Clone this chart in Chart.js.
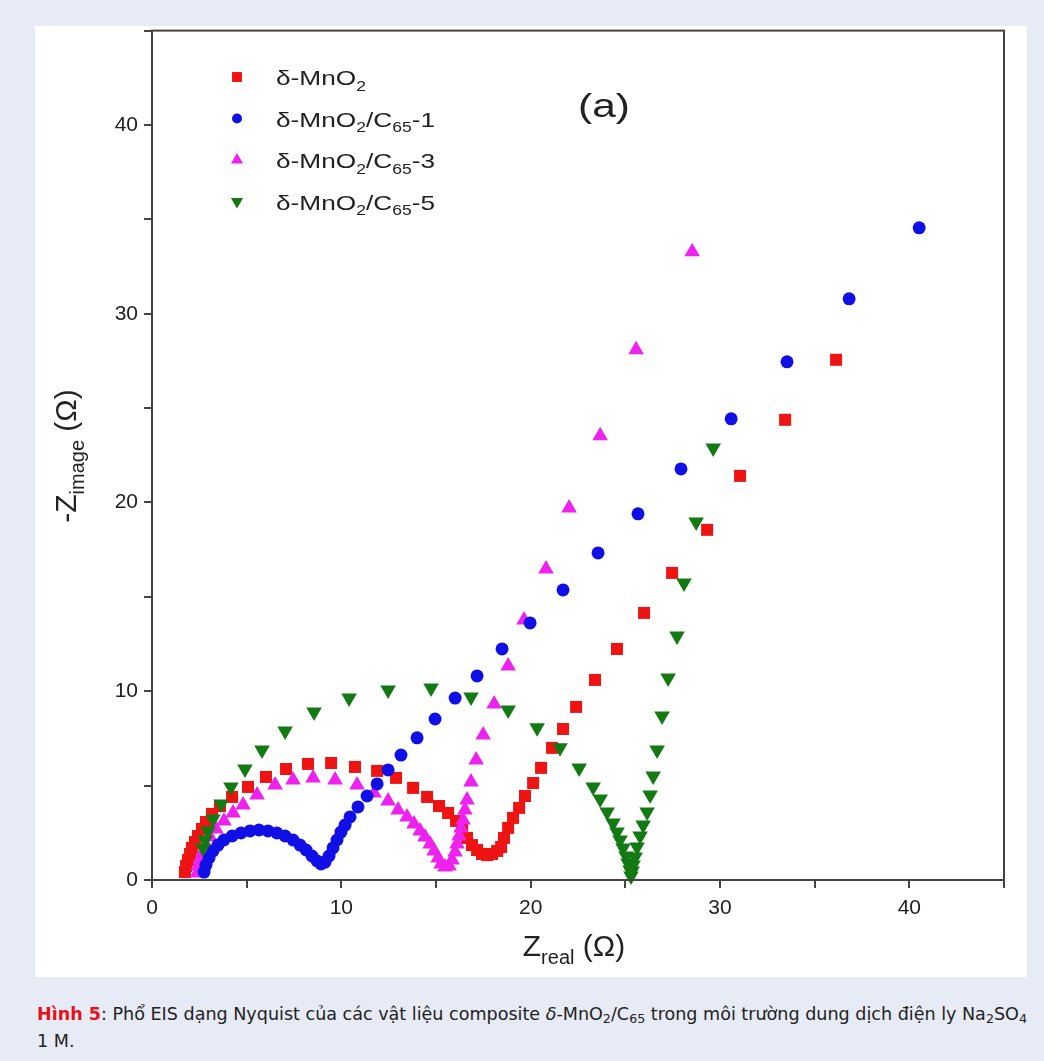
<!DOCTYPE html>
<html>
<head>
<meta charset="utf-8">
<script src="https://cdn.jsdelivr.net/npm/chart.js@4.4.1/dist/chart.umd.min.js"></script>
<style>
  body { margin: 0; background: #e7ebf6; width: 1044px; height: 1061px; position: relative; overflow: hidden; }
  #card { position: absolute; left: 35px; top: 26px; width: 992px; height: 951px; background: #fff; overflow: hidden; }
  #eis-chart { position: absolute; left: 0; top: -14px; }
  #caption { position: absolute; left: 37px; top: 1000px; font-family: "Liberation Sans Narrow", "DejaVu Sans Condensed", "Liberation Sans", sans-serif; font-size: 18px; line-height: 27px; color: #222; white-space: nowrap; transform-origin: 0 0; }
  #caption b { color: #e8101a; }
  #caption sub { font-size: 13px; vertical-align: -3px; line-height: 0; }
</style>
</head>
<body>
<div id="card"><canvas id="eis-chart" width="992" height="965"></canvas></div>
<div id="caption"><span id="cap1"><b>Hình 5</b>: Phổ EIS dạng Nyquist của các vật liệu composite <i>δ</i>-MnO<sub>2</sub>/C<sub>65</sub> trong môi trường dung dịch điện ly Na<sub>2</sub>SO<sub>4</sub></span><br>1 M.</div>
<script>
// Nyquist data (Zreal, -Zimage in ohm)
const mnO2X = [1.74, 1.80, 1.90, 2.01, 2.11, 2.27, 2.43, 2.64, 2.85, 3.17, 3.59, 4.23, 5.07, 6.02, 7.08, 8.24, 9.46, 10.72, 11.89, 12.89, 13.79, 14.53, 15.16, 15.64, 16.06, 16.38, 16.64, 16.90, 17.17, 17.43, 17.70, 17.96, 18.23, 18.44, 18.59, 18.81, 19.07, 19.39, 19.70, 20.13, 20.55, 21.13, 21.71, 22.40, 23.40, 24.56, 25.99, 27.47, 29.32, 31.06, 33.44, 36.13];
const mnO2Y = [0.42, 0.74, 1.06, 1.38, 1.70, 2.01, 2.33, 2.70, 3.07, 3.50, 3.92, 4.40, 4.93, 5.46, 5.88, 6.15, 6.20, 5.99, 5.78, 5.41, 4.88, 4.40, 3.92, 3.55, 3.13, 2.65, 2.23, 1.85, 1.59, 1.38, 1.32, 1.38, 1.54, 1.75, 2.23, 2.76, 3.29, 3.82, 4.45, 5.14, 5.94, 7.00, 8.00, 9.17, 10.60, 12.24, 14.15, 16.27, 18.55, 21.41, 24.38, 27.56];

const c65_1X = [2.75, 2.85, 3.01, 3.22, 3.49, 3.80, 4.23, 4.70, 5.18, 5.65, 6.13, 6.60, 7.03, 7.45, 7.82, 8.14, 8.45, 8.72, 8.93, 9.14, 9.35, 9.56, 9.77, 9.98, 10.20, 10.46, 10.88, 11.36, 11.89, 12.47, 13.15, 14.00, 14.95, 16.01, 17.17, 18.49, 19.97, 21.71, 23.56, 25.67, 27.94, 30.59, 33.54, 36.82, 40.52];
const c65_1Y = [0.42, 0.79, 1.17, 1.54, 1.85, 2.12, 2.33, 2.49, 2.60, 2.65, 2.60, 2.49, 2.33, 2.12, 1.85, 1.59, 1.27, 1.01, 0.85, 0.95, 1.27, 1.70, 2.12, 2.54, 2.91, 3.34, 3.87, 4.45, 5.09, 5.83, 6.62, 7.53, 8.53, 9.64, 10.81, 12.24, 13.62, 15.37, 17.33, 19.40, 21.78, 24.43, 27.45, 30.79, 34.55];

const c65_3X = [2.38, 2.43, 2.54, 2.69, 2.85, 3.06, 3.38, 3.80, 4.28, 4.81, 5.55, 6.50, 7.45, 8.51, 9.67, 10.83, 11.73, 12.47, 13.00, 13.47, 13.84, 14.16, 14.42, 14.69, 14.90, 15.11, 15.27, 15.48, 15.69, 15.85, 16.01, 16.11, 16.22, 16.32, 16.43, 16.53, 16.64, 16.85, 17.12, 17.49, 18.07, 18.81, 19.65, 20.81, 22.03, 23.67, 25.57, 28.53];
const c65_3Y = [0.37, 0.74, 1.11, 1.48, 1.85, 2.28, 2.70, 3.13, 3.55, 3.97, 4.50, 5.03, 5.30, 5.41, 5.30, 5.03, 4.61, 4.19, 3.71, 3.34, 2.97, 2.60, 2.28, 1.91, 1.54, 1.17, 0.85, 0.69, 0.74, 1.06, 1.48, 1.91, 2.33, 2.76, 3.18, 3.71, 4.24, 5.19, 6.36, 7.68, 9.33, 11.34, 13.78, 16.48, 19.71, 23.53, 28.09, 33.28];

const c65_5X = [2.69, 2.80, 2.96, 3.22, 3.65, 4.17, 4.91, 5.81, 7.03, 8.56, 10.41, 12.47, 14.74, 16.85, 18.81, 20.34, 21.55, 22.56, 23.30, 23.67, 24.04, 24.35, 24.56, 24.72, 24.88, 25.04, 25.14, 25.25, 25.30, 25.36, 25.41, 25.52, 25.62, 25.78, 25.94, 26.15, 26.31, 26.47, 26.68, 26.94, 27.26, 27.73, 28.10, 28.74, 29.64];
const c65_5Y = [1.70, 2.12, 2.60, 3.23, 4.03, 4.93, 5.88, 6.89, 7.90, 8.90, 9.64, 10.07, 10.17, 9.70, 9.01, 8.06, 7.00, 5.94, 4.93, 4.29, 3.60, 3.02, 2.54, 2.12, 1.70, 1.27, 0.90, 0.53, 0.21, 0.48, 0.79, 1.22, 1.75, 2.33, 2.91, 3.60, 4.50, 5.51, 6.89, 8.69, 10.70, 12.93, 15.74, 18.97, 22.89];

const xMajorTicks = [0, 10, 20, 30, 40];
const yMajorTicks = [0, 10, 20, 30, 40];

// legend entries: [text, isSubscript]
const seriesNames = [
  [['δ-MnO', 0], ['2', 1]],
  [['δ-MnO', 0], ['2', 1], ['/C', 0], ['65', 1], ['-1', 0]],
  [['δ-MnO', 0], ['2', 1], ['/C', 0], ['65', 1], ['-3', 0]],
  [['δ-MnO', 0], ['2', 1], ['/C', 0], ['65', 1], ['-5', 0]]
];

function toPoints(xs, ys) {
  return xs.map((x, i) => ({ x: x, y: ys[i] }));
}

// draws text with subscripts. parts = [[text, isSub], ...]
function drawRich(ctx, parts, x, y, size, hscale, align) {
  const font = s => s + 'px "Liberation Sans", Arial, sans-serif';
  let total = 0;
  parts.forEach(p => {
    ctx.font = font(p[1] ? Math.round(size * 0.68) : size);
    total += ctx.measureText(p[0]).width;
  });
  ctx.save();
  ctx.translate(x, y);
  ctx.scale(hscale, 1);
  let cx = align === 'center' ? -total / 2 : 0;
  ctx.textBaseline = 'alphabetic';
  ctx.textAlign = 'left';
  parts.forEach(p => {
    ctx.font = font(p[1] ? Math.round(size * 0.68) : size);
    ctx.fillText(p[0], cx, p[1] ? size * 0.28 : 0);
    cx += ctx.measureText(p[0]).width;
  });
  ctx.restore();
}

const frameAndText = {
  id: 'frameAndText',
  afterDraw(chart) {
    const ctx = chart.ctx;
    const a = chart.chartArea;
    ctx.save();
    ctx.strokeStyle = '#444';
    ctx.lineWidth = 2;
    ctx.strokeRect(a.left, a.top, a.right - a.left, a.bottom - a.top);

    // legend inside the plot
    chart.data.datasets.forEach((ds, i) => {
      const y = 65 + i * 41.5;
      ctx.fillStyle = ds.backgroundColor;
      ctx.strokeStyle = ds.backgroundColor;
      Chart.helpers.drawPoint(ctx, {
        pointStyle: ds.pointStyle,
        rotation: ds.rotation || 0,
        radius: ds.pointStyle === 'circle' ? 5 : 7,
        borderWidth: 0
      }, 202, y);
      ctx.fillStyle = '#222';
      drawRich(ctx, seriesNames[i], 241, y + 8, 21, 1.25, 'left');
    });

    ctx.fillStyle = '#222';
    drawRich(ctx, [['(a)', 0]], 543, 105, 34, 1.25, 'left');

    // axis titles
    drawRich(ctx, [['Z', 0], ['real', 1], [' (Ω)', 0]], 539, 944, 30, 1, 'center');
    ctx.save();
    ctx.translate(41, 444);
    ctx.rotate(-Math.PI / 2);
    drawRich(ctx, [['-Z', 0], ['image', 1], [' (Ω)', 0]], 0, 0, 30, 1, 'center');
    ctx.restore();
    ctx.restore();
  }
};

function main() {
  const canvas = document.querySelector('#eis-chart');
  const tickFont = { family: '"Liberation Sans", Arial, sans-serif', size: 21 };
  const gridOpts = { drawOnChartArea: false, drawTicks: true, tickLength: 8, color: '#444', lineWidth: 2 };

  new Chart(canvas.getContext('2d'), {
    type: 'scatter',
    data: {
      datasets: [
        { label: 'δ-MnO2', data: toPoints(mnO2X, mnO2Y), pointStyle: 'rect', pointRadius: 8.5,
          backgroundColor: '#ee1414', borderWidth: 0, order: 3, clip: false },
        { label: 'δ-MnO2/C65-1', data: toPoints(c65_1X, c65_1Y), pointStyle: 'circle', pointRadius: 6.5,
          backgroundColor: '#1010e6', borderWidth: 0, order: 1, clip: false },
        { label: 'δ-MnO2/C65-3', data: toPoints(c65_3X, c65_3Y), pointStyle: 'triangle', pointRadius: 9,
          backgroundColor: '#ee22ee', borderWidth: 0, order: 2, clip: false },
        { label: 'δ-MnO2/C65-5', data: toPoints(c65_5X, c65_5Y), pointStyle: 'triangle', rotation: 180, pointRadius: 9,
          backgroundColor: '#137a13', borderWidth: 0, order: 0, clip: false }
      ]
    },
    options: {
      responsive: false,
      animation: false,
      devicePixelRatio: 1,
      layout: { padding: { top: 5, right: 23, left: 0, bottom: 0 } },
      plugins: { legend: { display: false }, tooltip: { enabled: false } },
      scales: {
        x: {
          type: 'linear', min: 0, max: 45,
          ticks: { stepSize: 5, autoSkip: false, maxRotation: 0, padding: 8, color: '#222', font: tickFont,
            callback: v => xMajorTicks.includes(v) ? String(v) : '' },
          grid: gridOpts,
          border: { display: true, color: '#444', width: 2 },
          afterFit: s => { s.height = 97; }
        },
        y: {
          type: 'linear', min: 0, max: 45,
          ticks: { stepSize: 5, autoSkip: false, padding: 6, color: '#222', font: tickFont,
            callback: v => yMajorTicks.includes(v) ? String(v) : '' },
          grid: gridOpts,
          border: { display: true, color: '#444', width: 2 },
          afterFit: s => { s.width = 117; }
        }
      }
    },
    plugins: [frameAndText]
  });

  // stretch the first caption line to the card width
  const cap = document.querySelector('#caption');
  const w = document.querySelector('#cap1').getBoundingClientRect().width;
  cap.style.transform = 'scaleX(' + (990 / w) + ')';
}

main()
</script>
</body>
</html>
